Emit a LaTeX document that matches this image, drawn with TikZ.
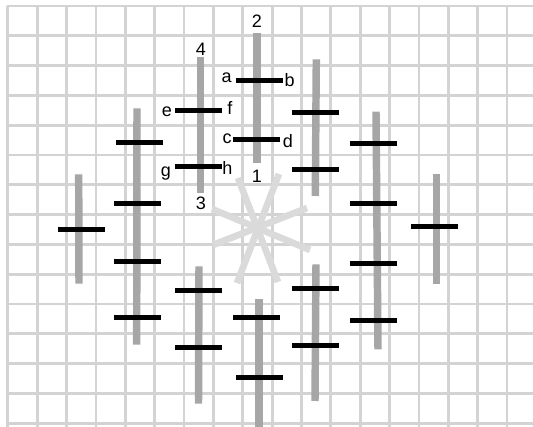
\documentclass[tikz,border=0pt]{standalone}
\usepackage{fontspec}
\setmainfont{Liberation Sans}
\definecolor{gridc}{HTML}{D3D3D3}
\definecolor{starc}{HTML}{DADADA}
\definecolor{barc}{HTML}{A6A6A6}
\tikzset{
  gridline/.style={draw=gridc, line width=2.1pt},
  starline/.style={draw=starc, line width=5pt},
  graybar/.style={draw=barc, line width=5.6pt},
  blackbar/.style={draw=black, line width=3.75pt},
  lbl/.style={inner sep=0pt, anchor=base, font=\fontsize{13.5pt}{16pt}\selectfont}
}
\begin{document}
\begin{tikzpicture}[x=0.75pt, y=-0.75pt]
\useasboundingbox (0,0) rectangle (533,427);
\begin{scope}
\clip (0,0) rectangle (533,427);
% grid
\foreach \i in {0,...,17} {
  \draw[gridline] ({7.8+29.37*\i},6) -- ({7.8+29.37*\i},430);
}
\foreach \j in {0,...,14} {
  \draw[gridline] (6.8,{6+29.8*\j}) -- (536,{6+29.8*\j});
}
% star
\draw[starline] (238,178) -- (278,282);
\draw[starline] (279,174) -- (237,283);
\draw[starline] (212,209) -- (310,250);
\draw[starline] (307,208) -- (213,245);
% gray bars
\draw[graybar] (257,33.3) -- (257,162.7);
\draw[graybar] (200.5,56.7) -- (200.5,193.3);
\draw[graybar] (137,108.3) -- (136.7,344.7);
\draw[graybar] (78.7,174.3) -- (79,283.7);
\draw[graybar] (199,266.3) -- (198.5,403.7);
\draw[graybar] (259,299) -- (259,430);
\draw[graybar] (316,264.3) -- (315,401);
\draw[graybar] (316.3,59.3) -- (315.3,196);
\draw[graybar] (376,111.7) -- (378,349.3);
\draw[graybar] (436.7,174.3) -- (436.7,283.7);
% black bars
\draw[blackbar] (236,80.5) -- (282.7,80.5);
\draw[blackbar] (175,110.5) -- (221.7,110.5);
\draw[blackbar] (233.3,140) -- (280,140);
\draw[blackbar] (175,167) -- (221.7,167);
\draw[blackbar] (116,142.3) -- (162.7,142.3);
\draw[blackbar] (114.3,204) -- (161,204);
\draw[blackbar] (114,261.3) -- (161,261.3);
\draw[blackbar] (114,317.3) -- (161,317.3);
\draw[blackbar] (58.3,229.3) -- (105,229.3);
\draw[blackbar] (175,290.3) -- (221.7,290.3);
\draw[blackbar] (175,347.3) -- (221.7,347.3);
\draw[blackbar] (233.3,317.3) -- (280,317.3);
\draw[blackbar] (236,377.3) -- (282.7,377.3);
\draw[blackbar] (292.3,288.3) -- (339,288.3);
\draw[blackbar] (292.3,345.3) -- (339,345.3);
\draw[blackbar] (292.3,112.3) -- (339,112.3);
\draw[blackbar] (292.3,169.3) -- (339,169.3);
\draw[blackbar] (350.3,144) -- (397,144);
\draw[blackbar] (350.3,204) -- (397,204);
\draw[blackbar] (350.3,263.3) -- (397,263.3);
\draw[blackbar] (350.3,320.3) -- (397,320.3);
\draw[blackbar] (411.3,226.3) -- (458,226.3);
\end{scope}
% labels
\node[lbl] (l2) at (257,27.3) {2};
\node[lbl] (l4) at (201,56) {4};
\node[lbl] (la) at (226.7,82.7) {a};
\node[lbl] (lb) at (289.7,86.7) {b};
\node[lbl] (le) at (167,116.7) {e};
\node[lbl] (lf) at (230,115) {f};
\node[lbl] (lc) at (227,143.3) {c};
\node[lbl] (ld) at (288,147.3) {d};
\node[lbl] (lg) at (166,177) {g};
\node[lbl] (lh) at (227.5,175) {h};
\node[lbl] (l1) at (257,182.7) {1};
\node[lbl] (l3) at (201,210) {3};
\end{tikzpicture}
\end{document}
